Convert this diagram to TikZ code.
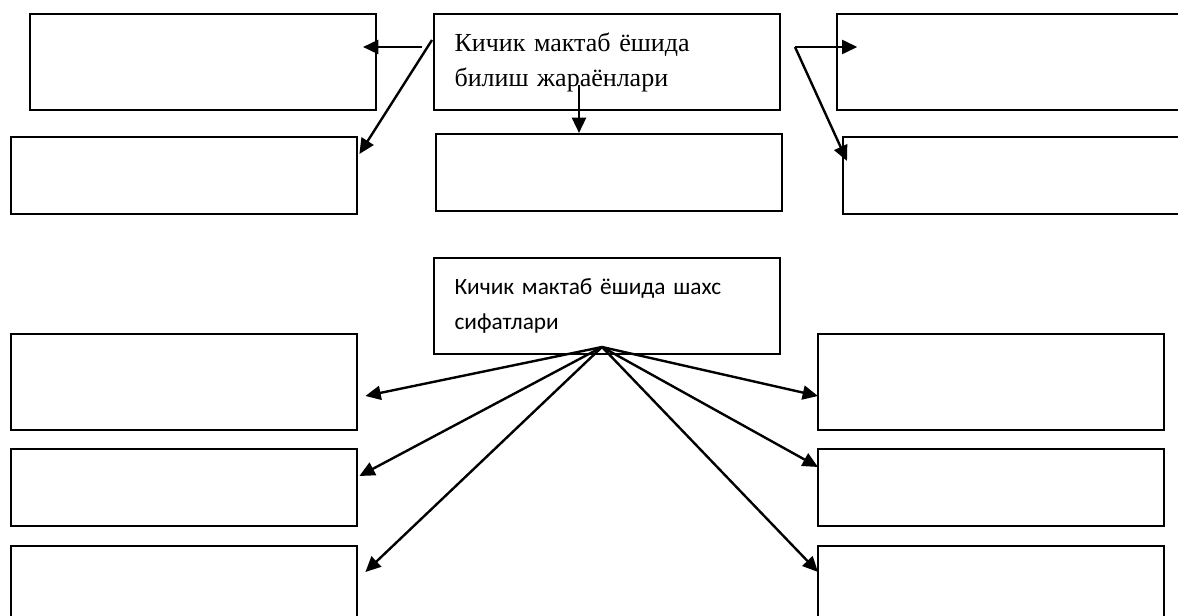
\documentclass[tikz,border=0pt]{standalone}
\usepackage{fontspec}
\setmainfont{Liberation Serif}
\newfontfamily\carlito{Carlito}
\usetikzlibrary{arrows.meta}

\begin{document}
\begin{tikzpicture}
          [x=0.75pt,y=-0.75pt,
          box/.style={draw=black,line width=1.8pt,anchor=north west,inner sep=0pt,minimum width=259.5pt},
          tallbox/.style={box,minimum height=72pt},
          lowbox/.style={box,minimum height=57.75pt},
          txtbox/.style={tallbox,align=left,inner xsep=15pt,text width=229pt},
          arc/.style={-{Triangle[length=11.5pt,width=10.5pt]},line width=1.8pt}]

            \clip (0,0) rectangle (1178,616);

            \node (bilish) [txtbox,font=\fontsize{19.5}{26}\selectfont] at (433,13) {Кичик мактаб ёшида\\билиш жараёнлари};
            \node (tl1) [tallbox] at (29,13) {};
            \node (tl2) [lowbox] at (10,136) {};
            \node (tmid) [lowbox] at (435,133) {};
            \node (tr1) [tallbox] at (836,13) {};
            \node (tr2) [lowbox] at (842,136) {};

            \node (shaxs) [txtbox,font=\carlito\fontsize{17.5}{26}\selectfont] at (433,257) {Кичик мактаб ёшида шахс\\сифатлари};
            \node (bl1) [tallbox] at (10,333) {};
            \node (bl2) [lowbox] at (10,448) {};
            \node (bl3) [tallbox] at (10,545) {};
            \node (br1) [tallbox] at (817,333) {};
            \node (br2) [lowbox] at (817,448) {};
            \node (br3) [tallbox] at (817,545) {};

            \coordinate (s1) at (422,47);
            \coordinate (s2) at (432,40);
            \coordinate (s3) at (579,85);
            \coordinate (s4) at (795,47);
            \coordinate (hub) at (602,347);

          \draw [arc] (s1) -- (363,47);
            \draw [arc] (s2) -- ([shift={(1,18)}]tl2.north east);
            \draw [arc] (s3) -- (tmid.north -| s3);
            \draw [arc] (s4) -- ([xshift=16]tr1.west |- s4);
            \draw [arc] (s4) -- ([shift={(5,25)}]tr2.north west);

            \draw [arc] (hub) -- ([shift={(7,63)}]bl1.north east);
            \draw [arc] (hub) -- ([shift={(1,28)}]bl2.north east);
            \draw [arc] (hub) -- ([shift={(7,27)}]bl3.north east);
            \draw [arc] (hub) -- ([shift={(1,63)}]br1.north west);
            \draw [arc] (hub) -- ([shift={(1,19)}]br2.north west);
            \draw [arc] (hub) -- ([shift={(1,27)}]br3.north west);

        \end{tikzpicture}
\end{document}
